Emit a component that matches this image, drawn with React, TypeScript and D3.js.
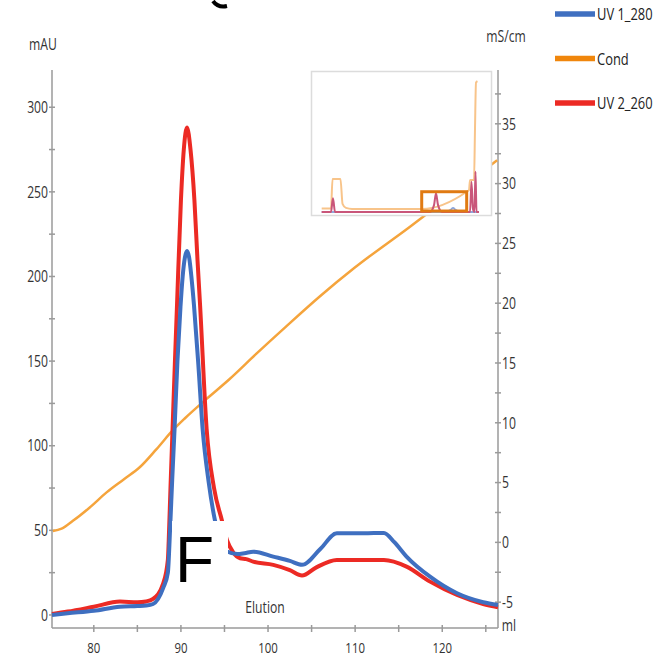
import { scaleLinear, line, curveMonotoneX } from 'd3';

const width = 661;
const height = 658;
const plot = { left: 52, right: 498, top: 70, bottom: 628 };

// main chromatogram, ml on x
const uv1Ml = [75.2, 77, 80, 83, 85, 86, 86.8, 87.97, 88.5, 88.75, 89.0, 89.27, 89.6, 89.95, 90.2, 90.45, 90.7, 90.95, 91.2, 91.5, 92.0, 92.49, 93.2, 93.9, 94.6, 95.3, 96.5, 97.3, 98.3, 100.6, 102.5, 103.9, 106, 107.9, 111, 113.3, 114.5, 115.9, 118.6, 121.7, 124.7, 126.4];
const uv1 = [0, 1, 2.5, 4.9, 5.3, 5.6, 6.5, 16, 25, 50, 80, 110, 150, 182, 200, 211, 215, 211, 200, 183, 148, 110, 78, 56, 42, 37.5, 36, 36.5, 37.4, 34.5, 32, 29.6, 39, 48.3, 48.3, 48.5, 43, 34.5, 22.6, 12.8, 7.5, 5.9];

const uv2Ml = [75.2, 77, 80, 83, 85, 86, 86.8, 87.97, 88.5, 88.6, 88.8, 89.04, 89.3, 89.55, 90.0, 90.33, 90.7, 91.1, 91.55, 91.9, 92.2, 92.95, 93.8, 94.7, 95.3, 96, 96.8, 97.5, 98.3, 100.6, 102.5, 103.9, 105.5, 107.9, 113.3, 115.9, 118.6, 121.7, 124.7, 126.4];
const uv2 = [0.6, 2, 4.9, 7.9, 7.5, 8, 9.5, 18.7, 32.5, 44, 75, 110, 148, 183, 245, 275, 288, 275, 245, 210, 183, 110, 75, 56, 44, 37, 33.5, 33, 31.5, 29.6, 26.5, 23.3, 28, 32.5, 32.5, 28.6, 19.7, 11.8, 6.5, 4.6];

const condMl = [75.3, 76.3, 77.6, 79.5, 81.5, 83.5, 85.3, 87.2, 89.1, 90.5, 92.95, 95.5, 98.7, 102, 106, 110, 116.3, 121, 126.3];
const cond = [0.95, 1.15, 1.8, 2.9, 4.2, 5.3, 6.3, 7.8, 9.4, 10.4, 12.0, 13.6, 15.8, 18.0, 20.6, 23.0, 26.4, 29.0, 31.95];

const xMajor = [80, 90, 100, 110, 120];
const xMinor = [85, 95, 105, 115, 125];
const leftMajor = [0, 50, 100, 150, 200, 250, 300];
const leftMinor = [25, 75, 125, 175, 225, 275];
const rightMajor = [-5, 0, 5, 10, 15, 20, 25, 30, 35];
const rightMinor = [-2.5, 2.5, 7.5, 12.5, 17.5, 22.5, 27.5, 32.5, 37.5];

// overview inset (whole run, own units)
const insetCondX = [4.3, 15.2, 17, 26.3, 28.7, 32.7, 39.8, 121.3, 173.9, 176.6, 177.8, 182.5, 183.6, 184.8, 186.5];
const insetCond = [2.5, 2.5, 24, 24, 6, 3, 2.2, 2.2, 14.8, 16, 23.4, 23.4, 60, 94.4, 95.5];
const insetUvX = [4.3, 15.2, 17.5, 19.9, 131, 135.7, 138, 140.4, 145, 177.8, 179.5, 181.3, 183, 184.2, 185.4, 188.3];
const insetUv = [0, 0, 10, 0, 0, 5, 13.6, 5, 0, 0, 22, 2, 0, 29.4, 0, 0];
const insetBlueX = [4.3, 150, 155, 158, 161, 166, 188.3];
const insetBlue = [0, 0, 1.5, 2.9, 1.5, 0, 0];
const insetWindow = [121.3, 173.9];
const insetWindowY = [0.7, 14.8];

const legendItems = ['UV 1_280', 'Cond', 'UV 2_260'];
const legendColors = ['#3f6fc0', '#f0860c', '#ec2a24'];

const font = "'Open Sans', 'DejaVu Sans', sans-serif";
const axisColor = '#9a9a9a';
const textColor = '#333';

// narrow-looking label: squeeze horizontally
function T({ x, y, children, anchor = 'start', size = 16, fill = textColor, dy = '0' }: any) {
  return (
    <text transform={`translate(${x},${y}) scale(0.76,1)`} dy={dy} textAnchor={anchor} fontSize={size} fill={fill}>
      {children}
    </text>
  );
}

export default function App() {
  const x = scaleLinear().domain([75.2, 126.4]).range([plot.left, plot.right]);
  const yL = scaleLinear().domain([-7.7, 322]).range([plot.bottom, plot.top]);
  const yR = scaleLinear().domain([-7.16, 39.5]).range([plot.bottom, plot.top]);

  const mk = (xs: number[], ys: number[], sx: any, sy: any) =>
    line<number>()
      .x((_, i) => sx(xs[i]))
      .y((d) => sy(d))
      .curve(curveMonotoneX)(ys) || '';

  const ix = scaleLinear().domain([0, 200]).range([318, 489]);
  const iy = scaleLinear().domain([0, 100]).range([212, 75]);

  return (
    <svg width={width} height={height} style={{ position: 'absolute', left: 0, top: 0, display: 'block' }} fontFamily={font}>
      <rect width={width} height={height} fill="#fff" />

      {/* stray glyph fragment at top */}
      <path d="M213,1 Q218,8 227,6" fill="none" stroke="#000" strokeWidth={4} />

      {/* axes */}
      <line x1={plot.left} x2={plot.left} y1={plot.top} y2={plot.bottom} stroke={axisColor} strokeWidth={1.5} />
      <line x1={plot.right} x2={plot.right} y1={plot.top} y2={plot.bottom} stroke={axisColor} strokeWidth={1.5} />
      <line x1={plot.left} x2={plot.right} y1={plot.bottom} y2={plot.bottom} stroke={axisColor} strokeWidth={1.5} />

      {leftMajor.concat(leftMinor).map((v) => (
        <line key={'lt' + v} x1={plot.left - 3} x2={plot.left + 3} y1={yL(v)} y2={yL(v)} stroke={axisColor} strokeWidth={1.5} />
      ))}
      {leftMajor.map((v) => (
        <T key={'ll' + v} x={plot.left - 4} y={yL(v)} dy="0.36em" anchor="end">{v}</T>
      ))}
      {rightMajor.concat(rightMinor).map((v) => (
        <line key={'rt' + v} x1={plot.right - 3} x2={plot.right + 3} y1={yR(v)} y2={yR(v)} stroke={axisColor} strokeWidth={1.5} />
      ))}
      {rightMajor.map((v) => (
        <T key={'rl' + v} x={plot.right + 4} y={yR(v)} dy="0.36em">{v}</T>
      ))}
      {xMajor.concat(xMinor).map((v) => (
        <line key={'xt' + v} x1={x(v)} x2={x(v)} y1={plot.bottom - 3} y2={plot.bottom + 4} stroke={axisColor} strokeWidth={1.5} />
      ))}
      {xMajor.map((v) => (
        <T key={'xl' + v} x={x(v)} y={653} anchor="middle" size={15}>{v}</T>
      ))}

      <T x={43} y={50} anchor="middle">mAU</T>
      <T x={506} y={42} anchor="middle">mS/cm</T>
      <T x={509} y={631} anchor="middle">ml</T>
      <T x={265} y={613} anchor="middle">Elution</T>

      {/* curves */}
      <path d={mk(condMl, cond, x, yR)} fill="none" stroke="#f5a43c" strokeWidth={2.5} />
      <path d={mk(uv2Ml, uv2, x, yL)} fill="none" stroke="#ec2a24" strokeWidth={4} strokeLinejoin="round" />
      <path d={mk(uv1Ml, uv1, x, yL)} fill="none" stroke="#3f6fc0" strokeWidth={4} strokeLinejoin="round" />

      {/* inset overview */}
      <rect x={311.5} y={71.5} width={180} height={144} fill="#fff" stroke="#dcdcdc" strokeWidth={1.5} />
      <path d={mk(insetCondX, insetCond, ix, iy)} fill="none" stroke="#f8c48a" strokeWidth={2} />
      <path d={mk(insetBlueX, insetBlue, ix, iy)} fill="none" stroke="#8fa8dc" strokeWidth={2} />
      <path d={mk(insetUvX, insetUv, ix, iy)} fill="none" stroke="#c9567a" strokeWidth={2} />
      <rect
        x={ix(insetWindow[0])}
        y={iy(insetWindowY[1])}
        width={ix(insetWindow[1]) - ix(insetWindow[0])}
        height={iy(insetWindowY[0]) - iy(insetWindowY[1])}
        fill="none"
        stroke="#e07a12"
        strokeWidth={3}
      />

      {/* label patch */}
      <rect x={172} y={521} width={56} height={72} fill="#fff" />
      <text x={175} y={582} fontSize={64} fontFamily="'Liberation Sans', Arial, sans-serif" fill="#000">F</text>

      {/* legend */}
      {legendItems.map((name, i) => (
        <g key={name} transform={`translate(555,${14 + i * 44.5})`}>
          <line x1={0} x2={40} y1={0} y2={0} stroke={legendColors[i]} strokeWidth={5.5} />
          <T x={42} y={0} dy="0.36em" size={17} fill="#222">{name}</T>
        </g>
      ))}
    </svg>
  );
}
